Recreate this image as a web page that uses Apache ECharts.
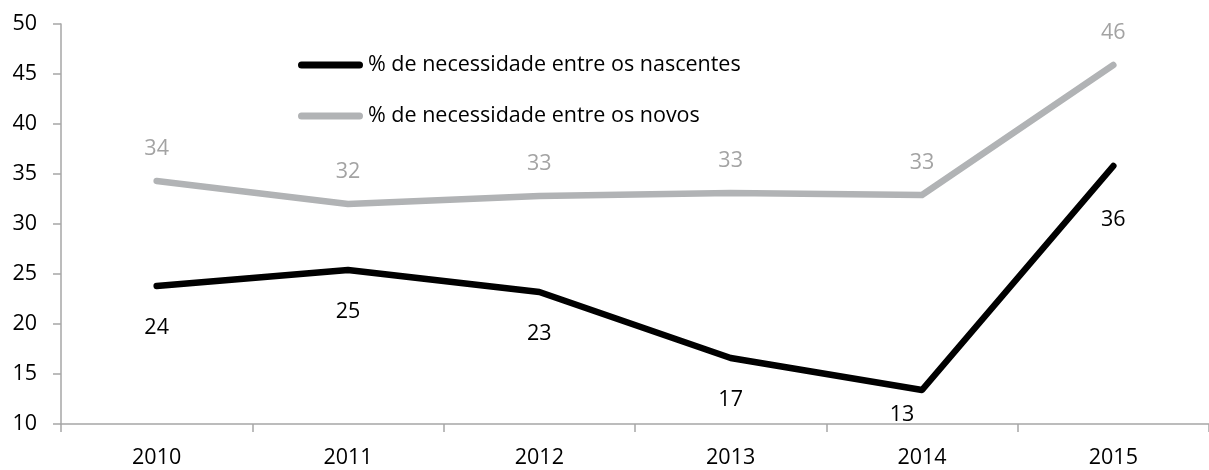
<!DOCTYPE html>
<html>
<head>
<meta charset="utf-8">
<script src="https://cdn.jsdelivr.net/npm/echarts@6/dist/echarts.min.js"></script>
<style>
  html, body { margin: 0; padding: 0; background: #fff; }
  #chart { width: 1209px; height: 470px; }
</style>
</head>
<body>
<div id="chart"></div>
<script>
const years = ['2010', '2011', '2012', '2013', '2014', '2015'];
const nascentes = [23.8, 25.4, 23.2, 16.6, 13.4, 35.8];
const novos = [34.3, 32.0, 32.8, 33.1, 32.9, 45.9];
const yTicks = { min: 10, max: 50, interval: 5 };

const font = 'Open Sans';
const fontSize = 21.5;
const axisGray = '#a6a6a6';

const chart = echarts.init(document.getElementById('chart'));

// black labels sit below the line; the last two need a nudge
const blackData = nascentes.map((v, i) => {
  if (i === 4) return { value: v, label: { offset: [-20, -17] } };
  if (i === 5) return { value: v, label: { offset: [0, 12] } };
  return v;
});

chart.setOption({
  animation: false,
  textStyle: { fontFamily: font },
  grid: { left: 61, top: 24, width: 1157, bottom: 46, containLabel: false },
  legend: {
    orient: 'vertical',
    left: 298,
    top: 54,
    padding: 0,
    itemWidth: 65,
    itemHeight: 7,
    itemGap: 29,
    icon: 'path://M3.5,0 L61.5,0 A3.5,3.5 0 0 1 61.5,7 L3.5,7 A3.5,3.5 0 0 1 3.5,0 Z',
    textStyle: { fontFamily: font, fontSize: fontSize, color: '#000' },
    data: ['% de necessidade entre os nascentes', '% de necessidade entre os novos'],
  },
  xAxis: {
    type: 'category',
    data: years,
    boundaryGap: true,
    axisLine: { lineStyle: { color: axisGray, width: 1.5 } },
    axisTick: { show: true, length: 8, lineStyle: { color: axisGray, width: 1.5 } },
    axisLabel: { color: '#000', fontSize: fontSize, fontFamily: font, margin: 23 },
    splitLine: { show: false },
  },
  yAxis: {
    type: 'value',
    min: yTicks.min,
    max: yTicks.max,
    interval: yTicks.interval,
    axisLine: { show: true, lineStyle: { color: axisGray, width: 1.5 } },
    axisTick: { show: true, length: 8, lineStyle: { color: axisGray, width: 1.5 } },
    axisLabel: { color: '#000', fontSize: fontSize, fontFamily: font, margin: 24 },
    splitLine: { show: false },
  },
  series: [
    {
      name: '% de necessidade entre os nascentes',
      type: 'line',
      data: blackData,
      symbol: 'circle',
      symbolSize: 0,
      itemStyle: { color: '#000' },
      lineStyle: { color: '#000', width: 6.5, cap: 'round', join: 'round' },
      label: {
        show: true,
        position: 'bottom',
        distance: 31,
        color: '#000',
        fontSize: fontSize,
        fontFamily: font,
        formatter: p => Math.round(p.value),
      },
    },
    {
      name: '% de necessidade entre os novos',
      type: 'line',
      data: novos,
      symbol: 'circle',
      symbolSize: 0,
      itemStyle: { color: '#b1b3b5' },
      lineStyle: { color: '#b1b3b5', width: 6.5, cap: 'round', join: 'round' },
      label: {
        show: true,
        position: 'top',
        distance: 21,
        color: '#a3a3a3',
        fontSize: fontSize,
        fontFamily: font,
        formatter: p => Math.round(p.value),
      },
    },
  ],
});
</script>
</body>
</html>
